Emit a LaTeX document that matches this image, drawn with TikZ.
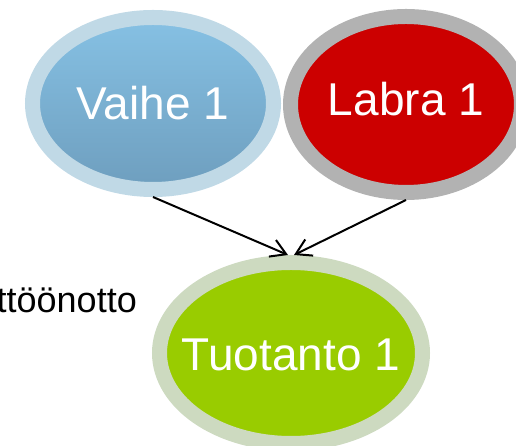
\documentclass[tikz,border=0pt]{standalone}
\usepackage{fontspec}
\setmainfont{Liberation Sans}
\usetikzlibrary{shapes.geometric,arrows.meta}

\definecolor{vaiheRim}{RGB}{192,217,230}
\definecolor{vaiheTop}{RGB}{134,193,228}
\definecolor{vaiheBot}{RGB}{110,158,190}
\definecolor{labraRim}{RGB}{178,178,178}
\definecolor{labraRed}{RGB}{204,0,0}
\definecolor{tuotRim}{RGB}{205,218,192}
\definecolor{tuotGreen}{RGB}{153,204,0}

\tikzset{
	phase/.style={ellipse, line width=15pt, inner sep=0pt},
	phasetext/.style={inner sep=0pt, text=white, font=\fontsize{46}{55}\selectfont},
	link/.style={line width=2pt, -{Straight Barb[length=15pt,width=18pt]}}
}

\begin{document}
\begin{tikzpicture}[x=1pt,y=1pt]
			%%%%% START %%%%%
			\useasboundingbox (0,0) rectangle (516,446);
			
			\node[phase, draw=vaiheRim, top color=vaiheTop, bottom color=vaiheBot, minimum width=241pt, minimum height=172pt] (vaihe) at (153,342.5) {};
			\node[phasetext] (vaiheText) at (vaihe.center) {Vaihe 1};
			
			\node[phase, draw=labraRim, fill=labraRed, minimum width=231pt, minimum height=176pt] (labra) at (406,341.5) {};
			\node[phasetext] (labraText) at ([yshift=5pt]labra.center) {Labra 1};
			
			\node[phase, draw=tuotRim, fill=tuotGreen, minimum width=263pt, minimum height=181pt] (tuot) at (291,93) {};
			\node[phasetext] (tuotText) at ([yshift=-1.5pt]tuot.center) {Tuotanto 1};
			
			\node[anchor=base east, inner sep=0pt, font=\fontsize{36}{43}\selectfont] (kaytto) at (137,133) {ttöönotto};
			
			\draw[link] (vaihe.south) -- ([xshift=-3pt]tuot.north);
			\draw[link] (labra.south) -- ([xshift=3pt]tuot.north);
			%%%%% END %%%%%
\end{tikzpicture}
\end{document}
